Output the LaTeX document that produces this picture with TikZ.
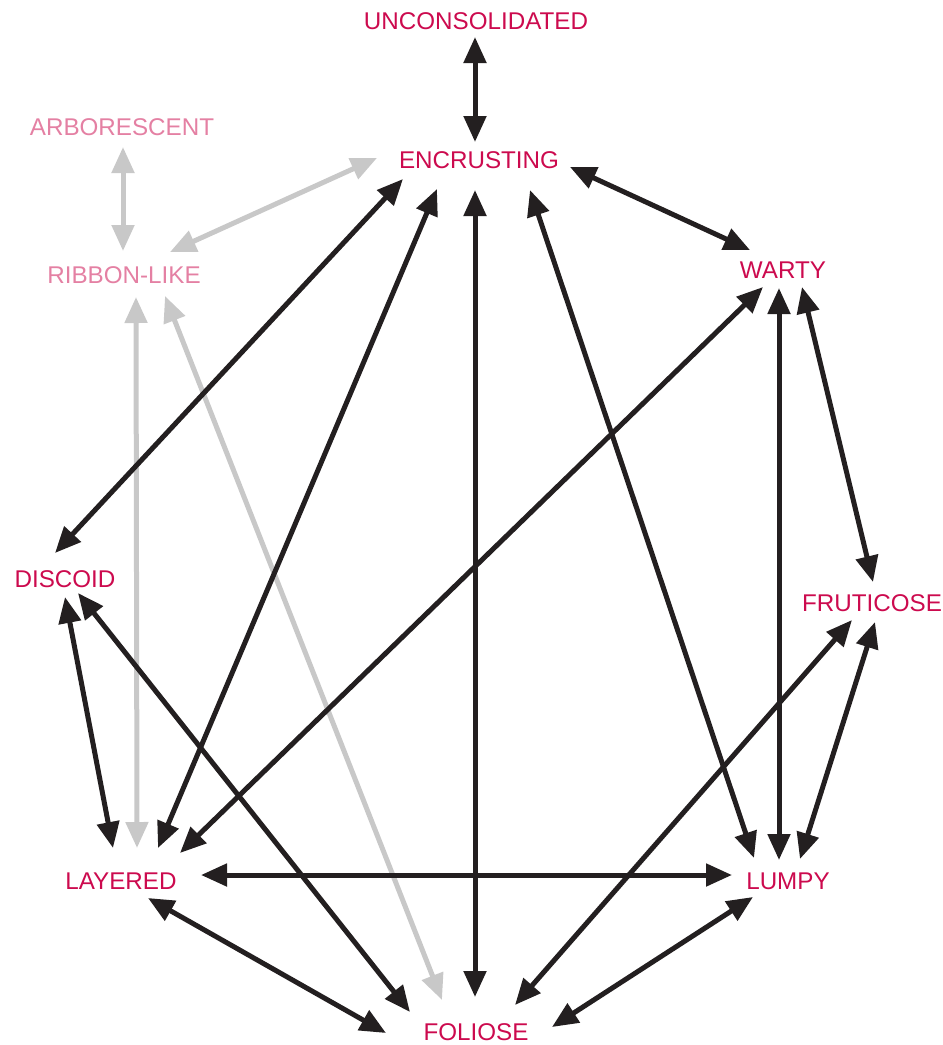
\documentclass[tikz,border=0pt]{standalone}
\usepackage{fontspec}
\setmainfont{Liberation Sans}
\usetikzlibrary{arrows.meta}
\definecolor{crim}{RGB}{204,10,78}
\definecolor{pinkt}{RGB}{228,128,163}
\definecolor{darkar}{RGB}{35,31,32}
\definecolor{grayar}{RGB}{200,200,200}
\begin{document}
\begin{tikzpicture}[x=1pt,y=-1pt,
  lbl/.style={inner sep=0pt,font=\fontsize{24.2}{27}\selectfont,text=crim},
  lblpale/.style={lbl,text=pinkt},
  arr/.style={draw=darkar,line width=5pt,{Triangle[length=26pt,width=22pt]}-{Triangle[length=26pt,width=22pt]}},
  arrg/.style={arr,draw=grayar}]
\useasboundingbox (0,0) rectangle (943,1045);
\node[lbl] (unc) at (476,21) {UNCONSOLIDATED};
\node[lbl] (enc) at (479,160) {ENCRUSTING};
\node[lblpale] (arb) at (122,127) {ARBORESCENT};
\node[lblpale] (rib) at (124,275) {RIBBON-LIKE};
\node[lbl] (war) at (783,270) {WARTY};
\node[lbl] (dis) at (65,579) {DISCOID};
\node[lbl] (fru) at (872,603) {FRUTICOSE};
\node[lbl] (lay) at (121,881) {LAYERED};
\node[lbl] (lum) at (788,881) {LUMPY};
\node[lbl] (fol) at (476,1032) {FOLIOSE};
% gray connectors
\draw[arrg] ([shift={(1,20)}]arb.center) -- ([shift={(-1,-24)}]rib.center);
\draw[arrg] ([shift={(-102,-2)}]enc.center) -- ([shift={(46,-23)}]rib.center);
\draw[arrg] ([shift={(12,22)}]rib.center) -- ([shift={(16,-33)}]lay.center);
\draw[arrg] ([shift={(41,21)}]rib.center) -- ([shift={(-34,-32)}]fol.center);
% dark connectors
\draw[arr] ([shift={(-1,16)}]unc.center) -- ([shift={(-4,-18)}]enc.center);
\draw[arr] ([shift={(-76,19)}]enc.center) -- ([shift={(-10,-26)}]dis.center);
\draw[arr] ([shift={(-42,29)}]enc.center) -- ([shift={(37,-33)}]lay.center);
\draw[arr] ([shift={(-4,30)}]enc.center) -- ([shift={(-1,-35)}]fol.center);
\draw[arr] ([shift={(51,30)}]enc.center) -- ([shift={(-34,-23)}]lum.center);
\draw[arr] ([shift={(91,7)}]enc.center) -- ([shift={(-33,-20)}]war.center);
\draw[arr] ([shift={(-20,17)}]war.center) -- ([shift={(59,-28)}]lay.center);
\draw[arr] ([shift={(-4,18)}]war.center) -- ([shift={(-9,-21)}]lum.center);
\draw[arr] ([shift={(19,17)}]war.center) -- ([shift={(1,-21)}]fru.center);
\draw[arr] ([shift={(0,18)}]dis.center) -- ([shift={(-8,-33)}]lay.center);
\draw[arr] ([shift={(13,14)}]dis.center) -- ([shift={(-66,-20)}]fol.center);
\draw[arr] ([shift={(-20,17)}]fru.center) -- ([shift={(39,-27)}]fol.center);
\draw[arr] ([shift={(3,19)}]fru.center) -- ([shift={(12,-22)}]lum.center);
\draw[arr] ([shift={(80,-6)}]lay.center) -- ([shift={(-56,-6)}]lum.center);
\draw[arr] ([shift={(27,17)}]lay.center) -- ([shift={(-90,1)}]fol.center);
\draw[arr] ([shift={(-35,16)}]lum.center) -- ([shift={(76,-5)}]fol.center);
\end{tikzpicture}
\end{document}
